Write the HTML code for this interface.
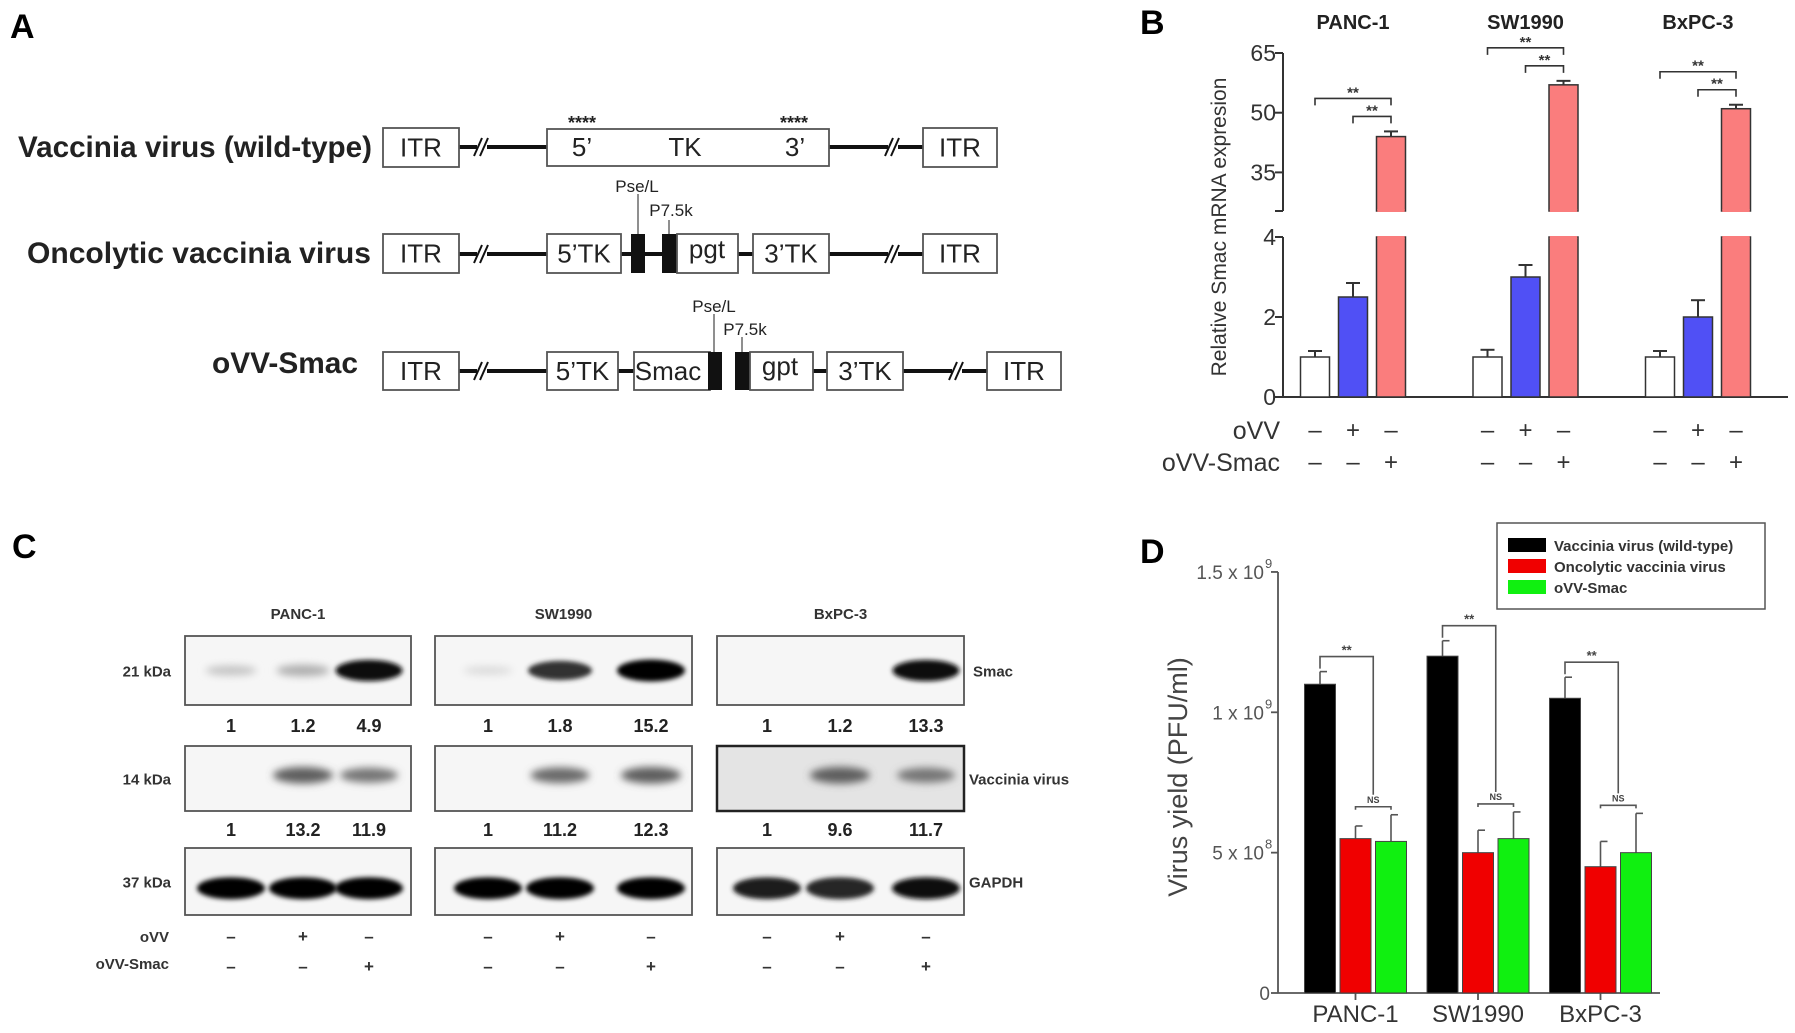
<!DOCTYPE html>
<html><head><meta charset="utf-8"><style>
html,body{margin:0;padding:0;background:#fff;}
svg{display:block;font-family:"Liberation Sans",Arial,sans-serif;}
</style></head><body>
<svg id="fig" width="1795" height="1033" viewBox="0 0 1795 1033" xmlns="http://www.w3.org/2000/svg">
<defs>
<filter id="blur" x="-50%" y="-100%" width="200%" height="300%"><feGaussianBlur stdDeviation="4"/></filter>
<filter id="blur2" x="-50%" y="-100%" width="200%" height="300%"><feGaussianBlur stdDeviation="2.5"/></filter>
</defs>
<text x="10" y="38" font-size="34" font-weight="bold">A</text>
<text x="1140" y="34" font-size="34" font-weight="bold">B</text>
<text x="12" y="558" font-size="34" font-weight="bold">C</text>
<text x="1140" y="563" font-size="34" font-weight="bold">D</text>

<g id="panelA"></g>
<g id="panelB"></g>
<g id="panelC"></g>
<g id="panelD"></g>
</svg>
<script>
// ---------- Panel B data ----------
const bCells = ["PANC-1","SW1990","BxPC-3"];
const bControl = [1, 1, 1];
const bControlErr = [1.15, 1.18, 1.15];
const bOVV = [2.5, 3.0, 2.0];
const bOVVErr = [2.85, 3.3, 2.42];
const bSmac = [44, 57, 51];
const bSmacErr = [45.3, 58, 52];
const bUpperTicks = [65, 50, 35];
const bLowerTicks = [4, 2, 0];
// ---------- Panel D data ----------
const dCells = ["PANC-1","SW1990","BxPC-3"];
const dWild = [1.10, 1.20, 1.05];
const dWildErr = [1.145, 1.255, 1.125];
const dOnco = [0.55, 0.50, 0.45];
const dOncoErr = [0.595, 0.58, 0.54];
const dSmac = [0.54, 0.55, 0.50];
const dSmacErr = [0.635, 0.645, 0.64];
const dTicks = [0, 0.5, 1.0, 1.5];
const dTickLabels = ["0", "5 x 10", "1 x 10", "1.5 x 10"];
const dTickExp = ["", "8", "9", "9"];
const dSeries = ["Vaccinia virus (wild-type)", "Oncolytic vaccinia virus", "oVV-Smac"];
// ---------- Panel C data ----------
const cCells = ["PANC-1","SW1990","BxPC-3"];
const cSmacQuant = [["1","1.2","4.9"],["1","1.8","15.2"],["1","1.2","13.3"]];
const cVacQuant = [["1","13.2","11.9"],["1","11.2","12.3"],["1","9.6","11.7"]];
const cSmacBand = [[0.15,0.25,0.95],[0.05,0.8,1.0],[0,0,0.95]];
const cVacBand = [[0,0.6,0.5],[0,0.55,0.6],[0,0.6,0.5]];
const cGapdhBand = [[1,1,1],[1,1,1],[0.9,0.85,0.95]];

const NS = "http://www.w3.org/2000/svg";
function mk(parent, tag, attrs, text){
  const e = document.createElementNS(NS, tag);
  for (const k in attrs) e.setAttribute(k, attrs[k]);
  if (text !== undefined) e.textContent = text;
  parent.appendChild(e);
  return e;
}

// ================= Panel A =================
(function(){
  const g = document.getElementById('panelA');
  function box(x1,x2,y1,y2,label,name){
    const r = mk(g,'rect',{x:x1,y:y1,width:x2-x1,height:y2-y1,fill:'#fff',stroke:'#555','stroke-width':1.8});
    
    
    if(label){
      const t = mk(g,'text',{x:(x1+x2)/2,y:(y1+y2)/2+9,'font-size':26,'text-anchor':'middle',fill:'#222'},label);
      
      
    }
  }
  function line(x1,x2,y,w){
    const l = mk(g,'line',{x1:x1,x2:x2,y1:y,y2:y,stroke:'#111','stroke-width':w||4});
    
    
  }
  function brk(x,y){
    mk(g,'rect',{x:x-6,y:y-5,width:10,height:10,fill:'#fff'});
    mk(g,'line',{x1:x-9,y1:y+9,x2:x-1,y2:y-9,stroke:'#111','stroke-width':2});
    mk(g,'line',{x1:x-3,y1:y+9,x2:x+5,y2:y-9,stroke:'#111','stroke-width':2});
  }
  function blk(x1,x2,y1,y2){
    const r = mk(g,'rect',{x:x1,y:y1,width:x2-x1,height:y2-y1,fill:'#111'});
    
    
  }
  function label(x,y,txt,anchor,size,name,bold,len){
    const at = {x:x,y:y,'font-size':size,'text-anchor':anchor,'font-weight':bold?'bold':'normal',fill:'#222'};
    if(len){ at.textLength=len; at.lengthAdjust='spacingAndGlyphs'; }
    const t = mk(g,'text',at,txt);
    
    
  }
  // Row 1
  let y1=128,y2=167,c=147;
  label(18,c+10,"Vaccinia virus (wild-type)","start",30,"row-wild-type-label",true,354);
  line(459,547,c); brk(483,c); line(829,923,c); brk(894,c);
  box(383,459,y1,y2,"ITR","itr-box");
  box(547,829,y1+1,y2-1,"","tk-box");
  label(582,c+9,"5’","middle",26,"tk-5-label");
  label(685,c+9,"TK","middle",26,"tk-label");
  label(795,c+9,"3’","middle",26,"tk-3-label");
  label(582,129,"****","middle",18,"tk-stars-5",true);
  label(794,129,"****","middle",18,"tk-stars-3",true);
  box(923,997,y1,y2,"ITR","itr-box");
  // Row 2
  y1=234;y2=273;c=254;
  label(27,c+9,"Oncolytic vaccinia virus","start",30,"row-oncolytic-label",true,344);
  line(459,547,c); brk(483,c); line(621,753,c); line(829,923,c); brk(894,c);
  box(383,459,y1,y2,"ITR","itr-box");
  box(547,621,y1,y2,"5’TK","tk5-box");
  blk(631,645,y1,y2); blk(662,677,y1,y2);
  box(677,738,y1,y2,"","pgt-box");
  label(707,c+4,"pgt","middle",26,"pgt-label");
  box(753,829,y1,y2,"3’TK","tk3-box");
  box(923,997,y1,y2,"ITR","itr-box");
  mk(g,'line',{x1:638,x2:638,y1:194,y2:y1,stroke:'#444','stroke-width':1.2});
  mk(g,'line',{x1:669,x2:669,y1:220,y2:y1,stroke:'#444','stroke-width':1.2});
  label(637,192,"Pse/L","middle",17,"pse-l-label");
  label(671,216,"P7.5k","middle",17,"p75k-label");
  // Row 3
  y1=352;y2=390;c=371;
  label(212,373,"oVV-Smac","start",30,"row-ovv-smac-label",true,146);
  line(459,547,c); brk(483,c); line(618,634,c); line(813,827,c); line(903,987,c); brk(958,c);
  box(383,459,y1,y2,"ITR","itr-box");
  box(547,618,y1,y2,"5’TK","tk5-box");
  box(634,710,y1,y2,"","smac-box");
  label(668,c+9,"Smac","middle",26,"smac-gene-label");
  blk(708,722,y1,y2); blk(735,750,y1,y2);
  box(750,813,y1,y2,"","gpt-box");
  label(780,c+4,"gpt","middle",26,"gpt-label");
  box(827,903,y1,y2,"3’TK","tk3-box");
  box(987,1061,y1,y2,"ITR","itr-box");
  mk(g,'line',{x1:714,x2:714,y1:314,y2:y1,stroke:'#444','stroke-width':1.2});
  mk(g,'line',{x1:742,x2:742,y1:337,y2:y1,stroke:'#444','stroke-width':1.2});
  label(714,312,"Pse/L","middle",17,"pse-l-label");
  label(745,335,"P7.5k","middle",17,"p75k-label");
})();

// ================= Panel B =================
(function(){
  const g = document.getElementById('panelB');
  const AX = 1283, Y0 = 397, YBRK_LO = 237, YBRK_HI = 211;
  function yLow(v){ return Y0 - v*40; }
  function yUp(v){ return 53 + (65 - v)*3.98; }
  function yB(v){ return v <= 4 ? yLow(v) : yUp(v); }
  const groupX0 = 1315, groupStep = 172.5, barStep = 38, bw = 29;
  const colors = ['#ffffff','#5050f5','#fa7d7d'];
  const seriesVals = [bControl, bOVV, bSmac];
  const seriesErr = [bControlErr, bOVVErr, bSmacErr];
  const seriesNames = ['control','ovv','ovv-smac'];
  let a = mk(g,'line',{x1:AX,x2:AX,y1:yUp(65),y2:YBRK_HI,stroke:'#333','stroke-width':2});
   
  a = mk(g,'line',{x1:AX,x2:AX,y1:YBRK_LO,y2:Y0,stroke:'#333','stroke-width':2});
   
  a = mk(g,'line',{x1:AX,x2:1788,y1:Y0,y2:Y0,stroke:'#333','stroke-width':2});
   
  mk(g,'line',{x1:AX-8,x2:AX,y1:YBRK_HI,y2:YBRK_HI,stroke:'#333','stroke-width':2});
  bUpperTicks.forEach(v=>{
    mk(g,'line',{x1:AX-8,x2:AX,y1:yUp(v),y2:yUp(v),stroke:'#333','stroke-width':2});
    const t = mk(g,'text',{x:AX-7,y:yUp(v)+8,'font-size':23,'text-anchor':'end',fill:'#333'},String(v));
     
  });
  bLowerTicks.forEach(v=>{
    mk(g,'line',{x1:AX-8,x2:AX,y1:yLow(v),y2:yLow(v),stroke:'#333','stroke-width':2});
    const t = mk(g,'text',{x:AX-7,y:yLow(v)+8,'font-size':23,'text-anchor':'end',fill:'#333'},String(v));
     
  });
  const yt = mk(g,'text',{x:0,y:0,'font-size':21,'text-anchor':'middle',fill:'#333',transform:'translate(1226,227) rotate(-90)'},'Relative Smac mRNA expresion');
   
  bCells.forEach((cell,gi)=>{
    const gx = groupX0 + gi*groupStep;
    const tt = mk(g,'text',{x:gx+38,y:29,'font-size':20,'font-weight':'bold','text-anchor':'middle',fill:'#222'},cell);
     
    seriesVals.forEach((arr,si)=>{
      const cx = gx + si*barStep, v = arr[gi], e = seriesErr[si][gi];
      mk(g,'line',{x1:cx,x2:cx,y1:yB(v),y2:yB(e),stroke:'#333','stroke-width':2});
      mk(g,'line',{x1:cx-7,x2:cx+7,y1:yB(e),y2:yB(e),stroke:'#333','stroke-width':2});
      if (v <= 4){
        const r = mk(g,'rect',{x:cx-bw/2,y:yB(v),width:bw,height:Y0-yB(v),fill:colors[si],stroke:'#333','stroke-width':1.5});
        
        
      } else {
        const r1 = mk(g,'rect',{x:cx-bw/2,y:YBRK_LO,width:bw,height:Y0-YBRK_LO,fill:colors[si],stroke:'#333','stroke-width':1.5});
        
        
        mk(g,'rect',{x:cx-bw/2+0.8,y:YBRK_LO-1,width:bw-1.6,height:3,fill:colors[si]});
        const r2 = mk(g,'rect',{x:cx-bw/2,y:yB(v),width:bw,height:YBRK_HI-yB(v),fill:colors[si],stroke:'#333','stroke-width':1.5});
        
        
        mk(g,'rect',{x:cx-bw/2+0.8,y:YBRK_HI-2,width:bw-1.6,height:3,fill:colors[si]});
      }
    });
    const topY = yB(bSmacErr[gi]);
    const inner = topY - 15, outer = topY - 33;
    const rx = gx + 2*barStep;
    [[gx+barStep, inner],[gx, outer]].forEach(([lx,yy])=>{
      const p = mk(g,'path',{d:`M${lx},${yy+7} V${yy} H${rx} V${yy+7}`,fill:'none',stroke:'#333','stroke-width':1.6});
       
      const s = mk(g,'text',{x:(lx+rx)/2,y:yy-1,'font-size':15,'font-weight':'bold','text-anchor':'middle',fill:'#333'},'**');
       
    });
    const ovvSigns = ['–','+','–'], smacSigns = ['–','–','+'];
    for(let si=0;si<3;si++){
      const cx = gx + si*barStep;
      const t1 = mk(g,'text',{x:cx,y:438,'font-size':24,'text-anchor':'middle',fill:'#333'},ovvSigns[si]);
       
      const t2 = mk(g,'text',{x:cx,y:470,'font-size':24,'text-anchor':'middle',fill:'#333'},smacSigns[si]);
       
    }
  });
  let t = mk(g,'text',{x:1280,y:439,'font-size':25,'text-anchor':'end',fill:'#333'},'oVV');
   
  t = mk(g,'text',{x:1280,y:471,'font-size':25,'text-anchor':'end',fill:'#333'},'oVV-Smac');
   
})();

// ================= Panel C =================
(function(){
  const g = document.getElementById('panelC');
  const panelsX = [[185,411],[435,692],[717,964]];
  const laneX = [[231,303,369],[488,560,651],[767,840,926]];
  const rows = [[636,705],[746,811],[848,915]];
  const bandSets = [cSmacBand, cVacBand, cGapdhBand];
  const bandY = [0.5, 0.45, 0.6];
  const kda = ["21 kDa","14 kDa","37 kDa"];
  const names = ["Smac","Vaccinia virus","GAPDH"];
  cCells.forEach((cell,pi)=>{
    const [x1,x2] = panelsX[pi];
    const t = mk(g,'text',{x:(x1+x2)/2,y:619,'font-size':15,'font-weight':'bold','text-anchor':'middle',fill:'#333'},cell);
     
    rows.forEach(([y1,y2],ri)=>{
      const bg = (pi===2 && ri===1) ? '#e4e4e4' : '#f6f6f6';
      const r = mk(g,'rect',{x:x1,y:y1,width:x2-x1,height:y2-y1,fill:bg,stroke:(pi===2&&ri===1)?'#222':'#555','stroke-width':(pi===2&&ri===1)?2.5:1.8});
      
      
      bandSets[ri][pi].forEach((inten,li)=>{
        if(inten<=0) return;
        const cy = y1 + (y2-y1)*bandY[ri];
        const w = ri===2 ? 34 : 24 + 10*inten;
        const h = ri===2 ? 11 : 4 + 7*inten;
        const gray = Math.round(230 - 225*inten);
        const b = mk(g,'ellipse',{cx:laneX[pi][li],cy:cy,rx:w,ry:h,fill:`rgb(${gray},${gray},${gray})`,filter:inten>0.7?'url(#blur2)':'url(#blur)'});
        
        
      });
    });
    [cSmacQuant, cVacQuant].forEach((q,qi)=>{
      q[pi].forEach((val,li)=>{
        const tx = mk(g,'text',{x:laneX[pi][li],y:qi===0?732:836,'font-size':18,'font-weight':'bold','text-anchor':'middle',fill:'#222'},val);
         
      });
    });
    const ovvS=['–','+','–'], smS=['–','–','+'];
    for(let li=0;li<3;li++){
      const a = mk(g,'text',{x:laneX[pi][li],y:942,'font-size':17,'font-weight':'bold','text-anchor':'middle',fill:'#333'},ovvS[li]);
       
      const b = mk(g,'text',{x:laneX[pi][li],y:972,'font-size':17,'font-weight':'bold','text-anchor':'middle',fill:'#333'},smS[li]);
       
    }
  });
  rows.forEach(([y1,y2],ri)=>{
    const a = mk(g,'text',{x:171,y:(y1+y2)/2+6,'font-size':15,'font-weight':'bold','text-anchor':'end',fill:'#333'},kda[ri]);
     
    const b = mk(g,'text',{x:ri===0?973:969,y:(y1+y2)/2+6,'font-size':15,'font-weight':'bold',fill:'#333'},names[ri]);
     
  });
  let t = mk(g,'text',{x:169,y:942,'font-size':15,'font-weight':'bold','text-anchor':'end',fill:'#333'},'oVV');
   
  t = mk(g,'text',{x:169,y:969,'font-size':15,'font-weight':'bold','text-anchor':'end',fill:'#333'},'oVV-Smac');
   
})();

// ================= Panel D =================
(function(){
  const g = document.getElementById('panelD');
  const AX = 1278, Y0 = 993;
  function yD(v){ return Y0 - v*280.7; }
  const gx0 = 1320, gStep = 122.5, bStep = 35.5, bw = 31;
  const colors = ['#000000','#f00000','#10f010'];
  const vals = [dWild, dOnco, dSmac], errs = [dWildErr, dOncoErr, dSmacErr];
  let a = mk(g,'line',{x1:AX,x2:AX,y1:yD(1.5),y2:Y0,stroke:'#555','stroke-width':1.8});
   
  a = mk(g,'line',{x1:AX,x2:1660,y1:Y0,y2:Y0,stroke:'#555','stroke-width':1.8});
   
  dTicks.forEach((v,i)=>{
    mk(g,'line',{x1:AX-7,x2:AX,y1:yD(v),y2:yD(v),stroke:'#555','stroke-width':1.8});
    const t = mk(g,'text',{x:AX-(dTickExp[i]?14:8),y:yD(v)+7,'font-size':19,'text-anchor':'end',fill:'#555'},dTickLabels[i]);
     
    if(dTickExp[i]){
      const e = mk(g,'text',{x:AX-13,y:yD(v)-4,'font-size':13,fill:'#555'},dTickExp[i]);
       
    }
  });
  const yt = mk(g,'text',{x:0,y:0,'font-size':27,'text-anchor':'middle',fill:'#444',transform:'translate(1187,777) rotate(-90)'},'Virus yield (PFU/ml)');
   
  dCells.forEach((cell,gi)=>{
    const gx = gx0 + gi*gStep;
    mk(g,'line',{x1:gx+bStep,x2:gx+bStep,y1:Y0,y2:Y0+7,stroke:'#555','stroke-width':1.8});
    const xl = mk(g,'text',{x:gx+bStep,y:1022,'font-size':24,'text-anchor':'middle',fill:'#333'},cell);
     
    vals.forEach((arr,si)=>{
      const cx = gx + si*bStep, v = arr[gi], e = errs[si][gi];
      mk(g,'line',{x1:cx,x2:cx,y1:yD(v),y2:yD(e),stroke:'#555','stroke-width':1.6});
      mk(g,'line',{x1:cx,x2:cx+7,y1:yD(e),y2:yD(e),stroke:'#555','stroke-width':1.6});
      const r = mk(g,'rect',{x:cx-bw/2,y:yD(v),width:bw,height:Y0-yD(v),fill:colors[si],stroke:'#444','stroke-width':1});
      
      
    });
    const nsY = yD(Math.max(dOncoErr[gi], dSmacErr[gi])) - 8;
    const l1 = gx + bStep, r1 = gx + 2*bStep;
    const p1 = mk(g,'path',{d:`M${l1},${nsY+3} V${nsY} H${r1} V${nsY+3}`,fill:'none',stroke:'#555','stroke-width':1.6});
     
    const nt = mk(g,'text',{x:(l1+r1)/2,y:nsY-4,'font-size':9,'font-weight':'bold','text-anchor':'middle',fill:'#444'},'NS');
     
    const sY = yD(dWildErr[gi]) - 15;
    const mx = (l1+r1)/2;
    const p2 = mk(g,'path',{d:`M${gx},${yD(dWildErr[gi])-3} V${sY} H${mx} V${nsY-12}`,fill:'none',stroke:'#555','stroke-width':1.6});
     
    const st = mk(g,'text',{x:(gx+mx)/2,y:sY-2,'font-size':13,'font-weight':'bold','text-anchor':'middle',fill:'#444'},'**');
     
  });
  const lg = mk(g,'g',{});
   
  mk(lg,'rect',{x:1497,y:523,width:268,height:86,fill:'#fff',stroke:'#555','stroke-width':1.5});
  const rowY = [545,566,587];
  dSeries.forEach((s,i)=>{
    const sw = mk(lg,'rect',{x:1508,y:rowY[i]-7,width:38,height:14,fill:colors[i]});
     
    const t = mk(lg,'text',{x:1554,y:rowY[i]+6,'font-size':15,'font-weight':'bold',fill:'#333'},s);
     
  });
})();
</script>
</body></html>
